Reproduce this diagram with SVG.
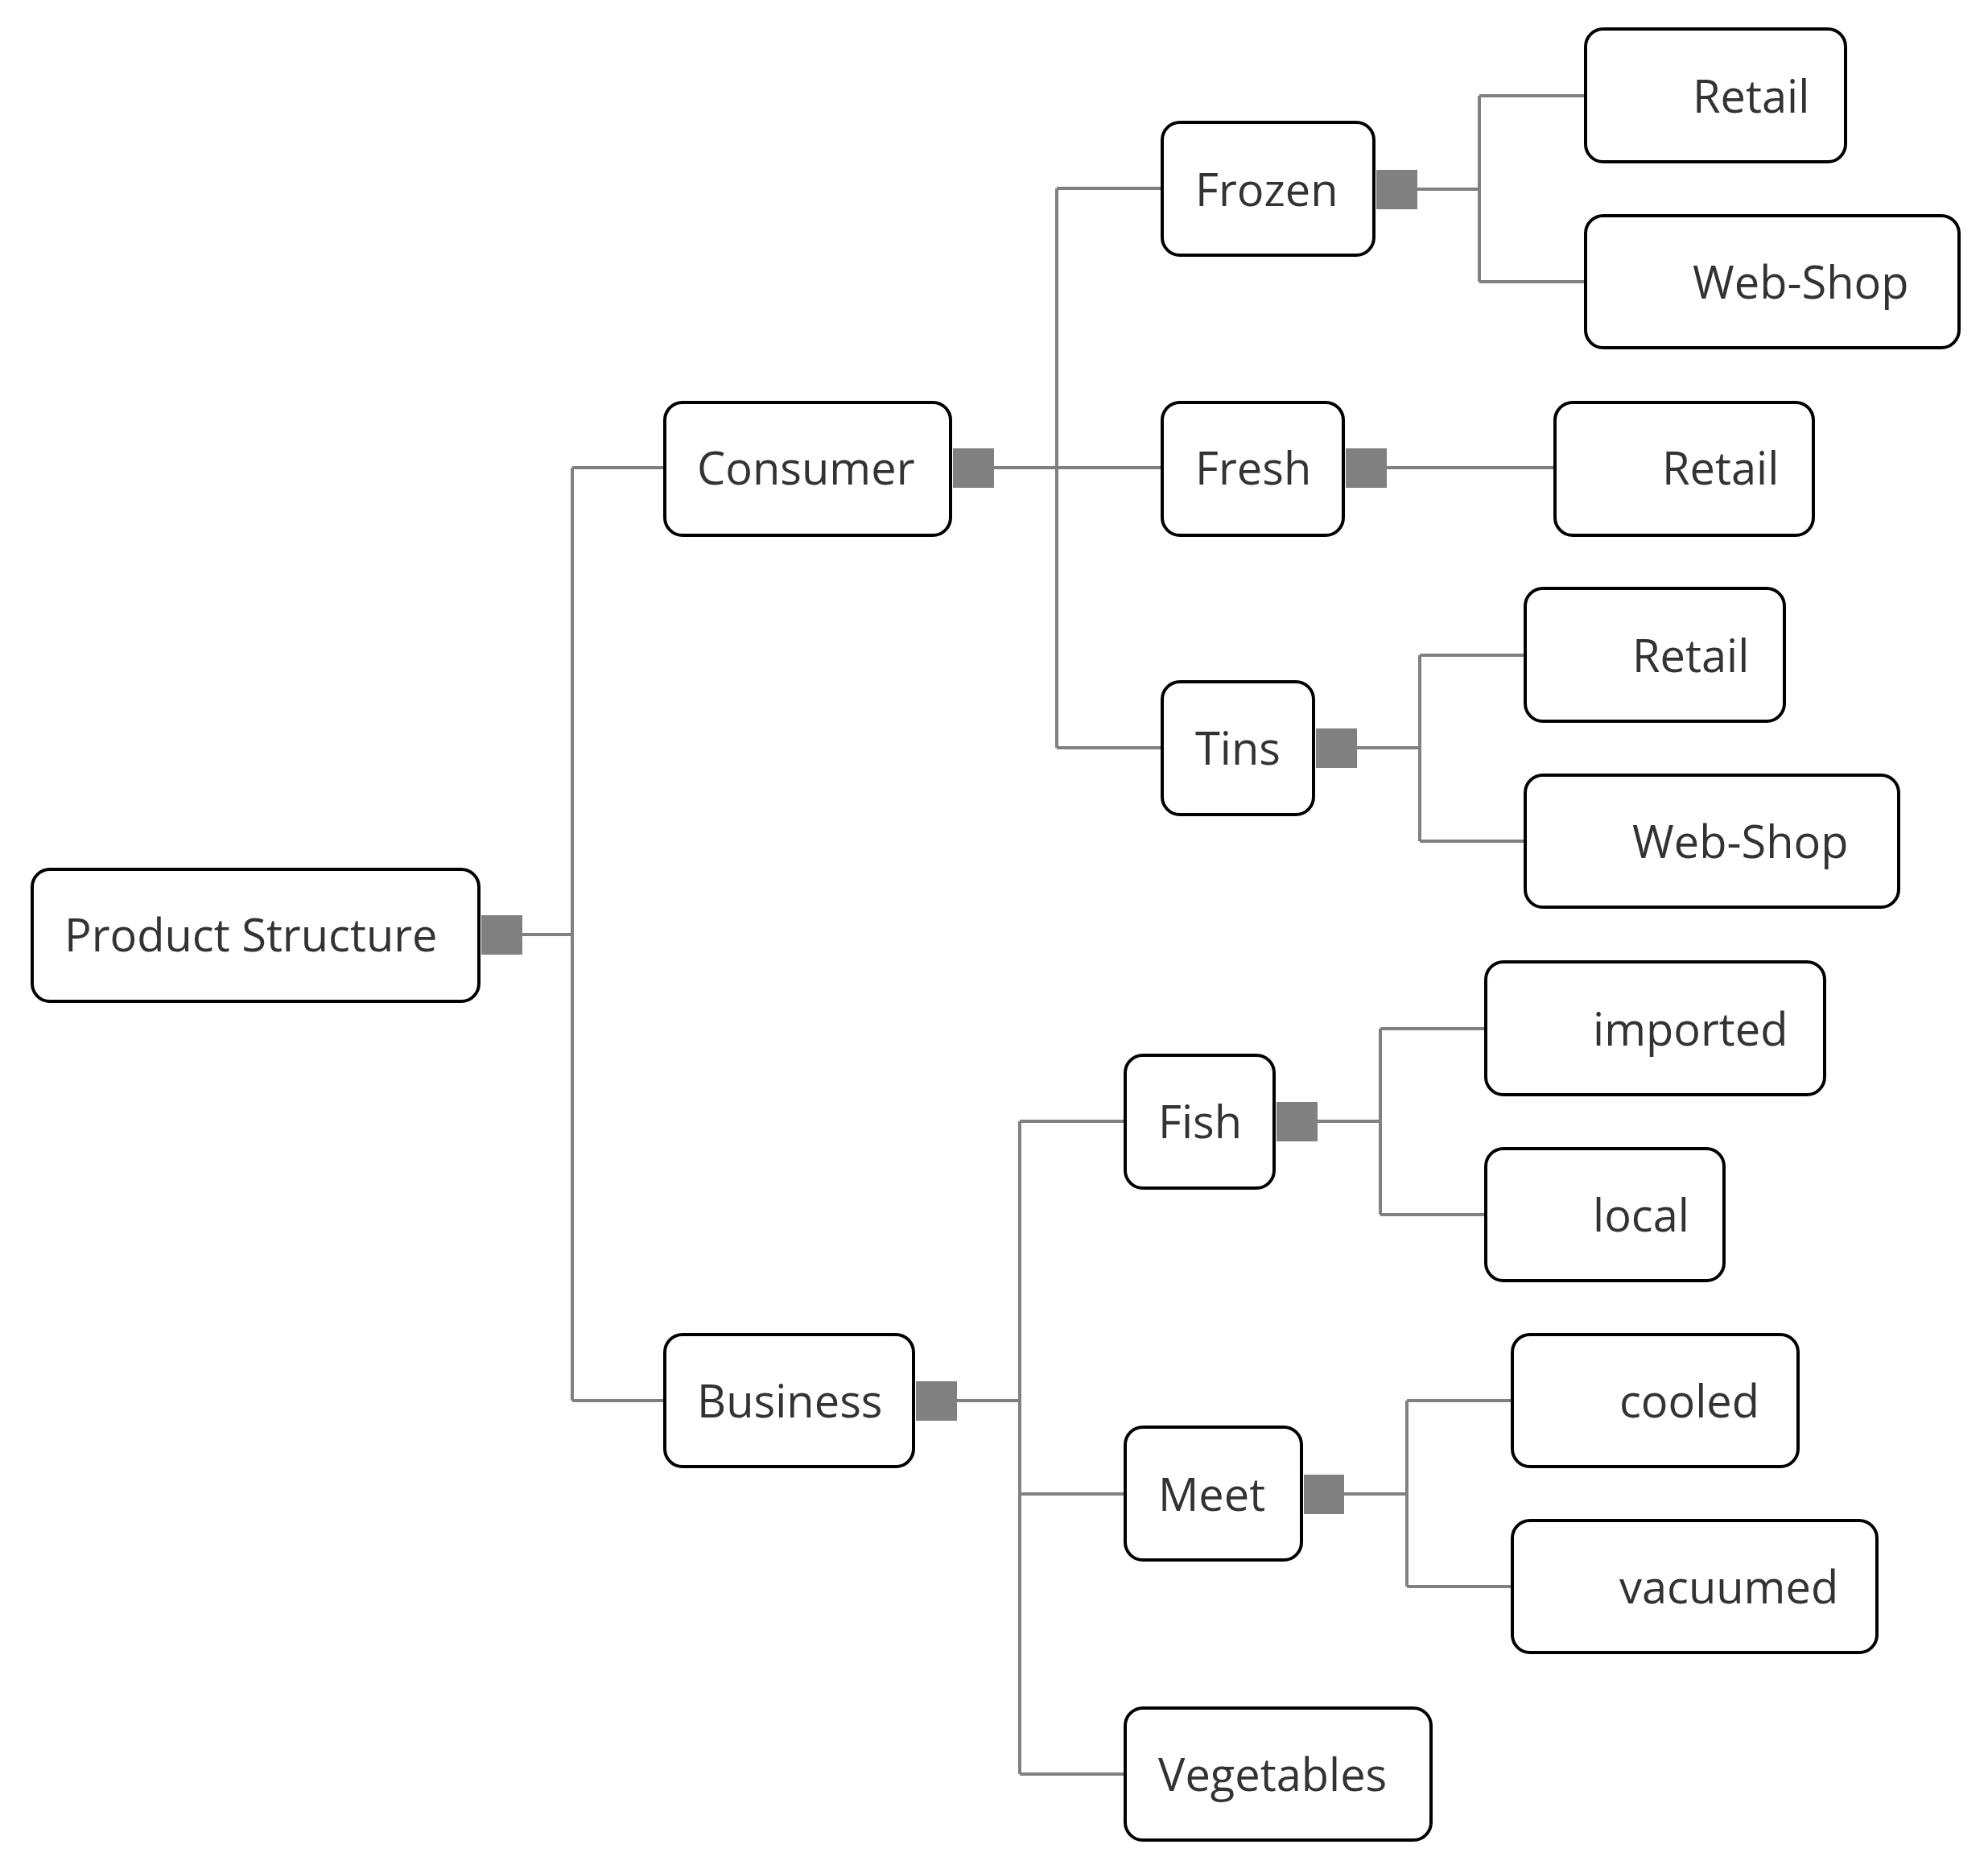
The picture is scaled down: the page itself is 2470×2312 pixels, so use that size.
<svg xmlns="http://www.w3.org/2000/svg" width="2470" height="2312" viewBox="0 0 2470 2312">
<style>
.n rect.b{fill:#fff;stroke:#000;stroke-width:4}
.n rect.s{fill:#808080}
text{font-family:"Open Sans","Noto Sans",sans-serif;font-size:56px;fill:#333}
#connectors path{fill:none;stroke:#808080;stroke-width:4}
</style>
<rect width="2470" height="2312" fill="#fff"/>
<g id="connectors">
<path d="M649 1161H711M711 581V1740M711 581H826M711 1740H826"/>
<path d="M1235 581H1444M1313 234V929M1313 234H1444M1313 929H1444"/>
<path d="M1761 235H1838M1838 119V350M1838 119H1970M1838 350H1970"/>
<path d="M1723 581H1932"/>
<path d="M1686 929H1764M1764 814V1045M1764 814H1895M1764 1045H1895"/>
<path d="M1189 1740H1267M1267 1393V2204M1267 1393H1398M1267 1856H1398M1267 2204H1398"/>
<path d="M1637 1393H1715M1715 1278V1509M1715 1278H1846M1715 1509H1846"/>
<path d="M1670 1856H1748M1748 1740V1971M1748 1740H1879M1748 1971H1879"/>
</g>
<g id="n-root" class="n"><rect class="b" x="40" y="1080" width="555" height="164" rx="22"/><rect class="s" x="598" y="1137" width="51" height="49"/><text x="80" y="1182">Product Structure</text></g>
<g id="n-consumer" class="n"><rect class="b" x="826" y="500" width="355" height="165" rx="22"/><rect class="s" x="1184" y="557" width="51" height="49"/><text x="866" y="602">Consumer</text></g>
<g id="n-frozen" class="n"><rect class="b" x="1444" y="152" width="263" height="165" rx="22"/><rect class="s" x="1710" y="211" width="51" height="49"/><text x="1485" y="256">Frozen</text></g>
<g id="n-retail1" class="n"><rect class="b" x="1970" y="36" width="323" height="165" rx="22"/><text x="2103" y="140">Retail</text></g>
<g id="n-webshop1" class="n"><rect class="b" x="1970" y="268" width="464" height="164" rx="22"/><text x="2103" y="371">Web-Shop</text></g>
<g id="n-fresh" class="n"><rect class="b" x="1444" y="500" width="225" height="165" rx="22"/><rect class="s" x="1672" y="557" width="51" height="49"/><text x="1485" y="602">Fresh</text></g>
<g id="n-retail2" class="n"><rect class="b" x="1932" y="500" width="321" height="165" rx="22"/><text x="2065" y="602">Retail</text></g>
<g id="n-tins" class="n"><rect class="b" x="1444" y="847" width="188" height="165" rx="22"/><rect class="s" x="1635" y="905" width="51" height="49"/><text x="1485" y="950">Tins</text></g>
<g id="n-retail3" class="n"><rect class="b" x="1895" y="731" width="322" height="165" rx="22"/><text x="2028" y="835">Retail</text></g>
<g id="n-webshop3" class="n"><rect class="b" x="1895" y="963" width="464" height="164" rx="22"/><text x="2028" y="1066">Web-Shop</text></g>
<g id="n-business" class="n"><rect class="b" x="826" y="1658" width="309" height="164" rx="22"/><rect class="s" x="1138" y="1716" width="51" height="49"/><text x="866" y="1761">Business</text></g>
<g id="n-fish" class="n"><rect class="b" x="1398" y="1311" width="185" height="165" rx="22"/><rect class="s" x="1586" y="1369" width="51" height="49"/><text x="1439" y="1414">Fish</text></g>
<g id="n-imported" class="n"><rect class="b" x="1846" y="1195" width="421" height="165" rx="22"/><text x="1979" y="1299">imported</text></g>
<g id="n-local" class="n"><rect class="b" x="1846" y="1427" width="296" height="164" rx="22"/><text x="1979" y="1530">local</text></g>
<g id="n-meet" class="n"><rect class="b" x="1398" y="1773" width="219" height="165" rx="22"/><rect class="s" x="1620" y="1832" width="50" height="49"/><text x="1439" y="1877">Meet</text></g>
<g id="n-cooled" class="n"><rect class="b" x="1879" y="1658" width="355" height="164" rx="22"/><text x="2012" y="1761">cooled</text></g>
<g id="n-vacuumed" class="n"><rect class="b" x="1879" y="1889" width="453" height="164" rx="22"/><text x="2012" y="1992">vacuumed</text></g>
<g id="n-vegetables" class="n"><rect class="b" x="1398" y="2122" width="380" height="164" rx="22"/><text x="1439" y="2225">Vegetables</text></g>
</svg>
